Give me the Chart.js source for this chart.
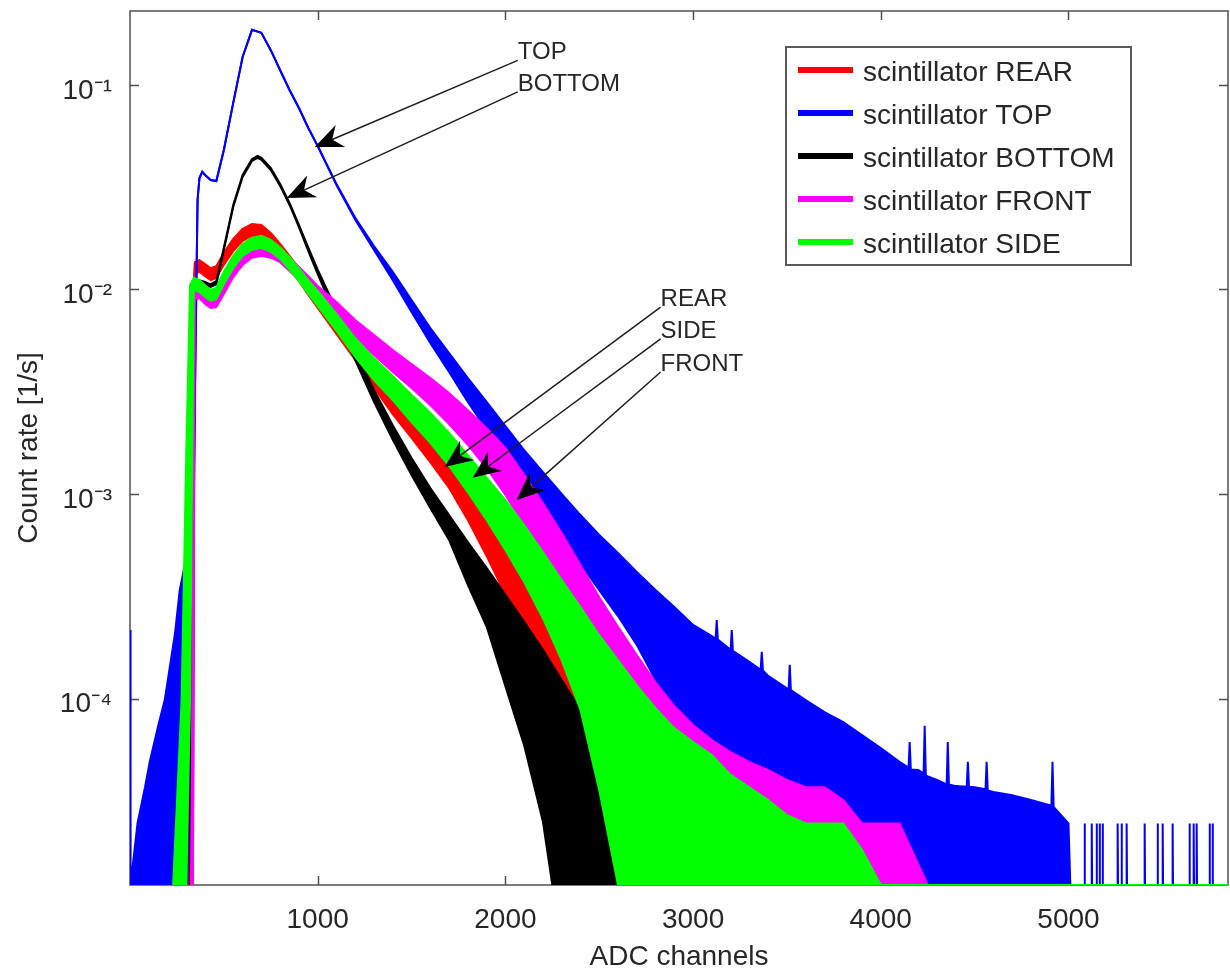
<!DOCTYPE html>
<html><head><meta charset="utf-8">
<script src="https://cdn.jsdelivr.net/npm/chart.js@4.4.1/dist/chart.umd.min.js"></script>
<style>html,body{margin:0;padding:0;background:#fff;}canvas{display:block;}</style>
</head><body>
<canvas id="c" width="1230" height="971"></canvas>
<script>
const FONT = '"Liberation Sans", Arial, Helvetica, sans-serif';

const seriesNames = ['scintillator REAR', 'scintillator TOP', 'scintillator BOTTOM', 'scintillator FRONT', 'scintillator SIDE'];
const seriesColors = ['#ff0000', '#0000ff', '#000000', '#ff00ff', '#00ff00'];

const xTickValues = [1000, 2000, 3000, 4000, 5000];
const xTickLabels = ['1000', '2000', '3000', '4000', '5000'];
const yTickValues = [1e-4, 1e-3, 1e-2, 1e-1];
const yTickLabels = ['10⁻⁴', '10⁻³', '10⁻²', '10⁻¹'];

// REAR (red): channel, upper and lower edge of the noisy trace [1/s]
const rearCh = [300, 320, 335, 345, 370, 400, 430, 460, 500, 550, 600, 650, 700, 750, 800, 850, 900, 950, 1000, 1100, 1200, 1300, 1400, 1500, 1600, 1700, 1800, 1900, 2000, 2100, 2200, 2300, 2400, 2500, 2600, 2700, 2800, 2850];
const rearHi = [1.225e-5, 3.03e-4, 8.89e-3, 0.0136, 0.0139, 0.0133, 0.0127, 0.0130, 0.0151, 0.0177, 0.0198, 0.0209, 0.0207, 0.0189, 0.0167, 0.0146, 0.0127, 0.0109, 0.00951, 0.00725, 0.00554, 0.00432, 0.00337, 0.00269, 0.00210, 0.00160, 0.00120, 8.54e-4, 5.96e-4, 4.02e-4, 2.65e-4, 1.73e-4, 1.10e-4, 7.42e-5, 5.00e-5, 3.19e-5, 2.45e-5, 1.225e-5];
const rearLo = [1.225e-5, 1.225e-5, 3.03e-4, 0.0119, 0.0122, 0.0116, 0.0111, 0.0114, 0.0132, 0.0154, 0.0173, 0.0183, 0.0181, 0.0165, 0.0146, 0.0127, 0.0110, 0.00940, 0.00812, 0.00606, 0.00452, 0.00330, 0.00246, 0.00188, 0.00143, 0.00107, 7.46e-4, 4.98e-4, 3.21e-4, 2.04e-4, 1.23e-4, 7.02e-5, 3.19e-5, 1.225e-5, 1.225e-5, 1.225e-5, 1.225e-5, 1.225e-5];

// TOP (blue)
const topCh = [0, 3, 40, 80, 105, 150, 185, 240, 265, 305, 330, 340, 350, 360, 370, 385, 400, 430, 460, 500, 550, 600, 650, 700, 750, 800, 850, 900, 950, 1000, 1100, 1200, 1300, 1400, 1500, 1600, 1700, 1800, 1900, 2000, 2100, 2200, 2300, 2400, 2500, 2600, 2700, 2800, 2900, 3000,
  3100, 3120, 3126, 3132, 3200, 3206, 3212, 3300, 3360, 3366, 3372, 3400, 3500, 3509, 3515, 3521, 3600, 3700, 3800, 3900, 4000, 4100, 4148, 4154, 4160, 4200, 4228, 4234, 4240, 4300, 4351, 4357, 4363, 4400, 4458, 4464, 4470, 4500, 4558, 4564, 4570, 4600, 4700, 4800, 4900, 4909, 4915, 4921, 5000, 5010];
const topHi = [2.16e-4, 1.225e-5, 2.45e-5, 3.68e-5, 4.90e-5, 7.35e-5, 9.83e-5, 2.09e-4, 3.39e-4, 5.15e-4,
  7.46e-4, 1.17e-3, 6.34e-3, 0.0274, 0.0351, 0.0376, 0.0363, 0.0343, 0.0339, 0.0481,
  0.0817, 0.137, 0.186, 0.180, 0.148, 0.118, 0.0945, 0.0772, 0.0616, 0.0503,
  0.0328, 0.0224, 0.0163, 0.0122, 0.00889, 0.00648, 0.00489, 0.00369, 0.00282, 0.00215,
  0.00164, 0.00128, 0.00100, 7.89e-4, 6.30e-4, 5.15e-4, 4.16e-4, 3.39e-4, 2.80e-4, 2.29e-4,
  2.02e-4, 1.96e-4, 2.42e-4, 1.94e-4, 1.73e-4, 2.16e-4, 1.71e-4, 1.51e-4, 1.38e-4, 1.69e-4,
  1.37e-4, 1.29e-4, 1.12e-4, 1.11e-4, 1.46e-4, 1.10e-4, 9.83e-5, 8.59e-5, 7.67e-5, 6.63e-5,
  5.73e-5, 4.90e-5, 4.60e-5, 6.13e-5, 4.50e-5, 4.47e-5, 4.30e-5, 7.35e-5, 4.20e-5, 4.00e-5,
  3.80e-5, 6.13e-5, 3.80e-5, 3.73e-5, 3.70e-5, 4.90e-5, 3.70e-5, 3.68e-5, 3.60e-5, 4.90e-5,
  3.55e-5, 3.49e-5, 3.37e-5, 3.19e-5, 3.01e-5, 2.98e-5, 4.90e-5, 2.95e-5, 2.45e-5, 1.225e-5];
const topLo = [1.225e-5, 1.225e-5, 1.225e-5, 1.225e-5, 1.225e-5, 1.225e-5, 1.225e-5, 1.225e-5, 1.225e-5, 1.225e-5,
  3.03e-4, 9.35e-4, 5.66e-3, 0.0274, 0.0351, 0.0376, 0.0363, 0.0343, 0.0339, 0.0481,
  0.0817, 0.137, 0.186, 0.180, 0.148, 0.118, 0.0945, 0.0772, 0.0616, 0.0503,
  0.0324, 0.0219, 0.0156, 0.0111, 0.00776, 0.00548, 0.00395, 0.00282, 0.00206, 0.00150,
  0.00109, 8.17e-4, 6.09e-4, 4.55e-4, 3.39e-4, 2.53e-4, 1.83e-4, 1.23e-4, 7.85e-5, 4.47e-5,
  1.225e-5, 1.225e-5, 1.225e-5, 1.225e-5, 1.225e-5, 1.225e-5, 1.225e-5, 1.225e-5, 1.225e-5, 1.225e-5,
  1.225e-5, 1.225e-5, 1.225e-5, 1.225e-5, 1.225e-5, 1.225e-5, 1.225e-5, 1.225e-5, 1.225e-5, 1.225e-5,
  1.225e-5, 1.225e-5, 1.225e-5, 1.225e-5, 1.225e-5, 1.225e-5, 1.225e-5, 1.225e-5, 1.225e-5, 1.225e-5,
  1.225e-5, 1.225e-5, 1.225e-5, 1.225e-5, 1.225e-5, 1.225e-5, 1.225e-5, 1.225e-5, 1.225e-5, 1.225e-5,
  1.225e-5, 1.225e-5, 1.225e-5, 1.225e-5, 1.225e-5, 1.225e-5, 1.225e-5, 1.225e-5, 1.225e-5, 1.225e-5];
// TOP sparse single-count spikes at the high end
const topSpikeCh = [5084, 5086, 5088, 5122, 5124, 5126, 5148, 5150, 5152, 5164, 5166, 5168, 5180, 5182, 5184, 5260, 5262, 5264, 5281, 5283, 5285, 5308, 5310, 5312, 5404, 5406, 5408, 5473, 5475, 5477, 5500, 5502, 5504, 5553, 5555, 5557, 5643, 5645, 5647, 5665, 5667, 5669, 5681, 5683, 5685, 5750, 5752, 5754, 5766, 5768, 5770];
const topSpikeRate = [1.225e-5, 2.45e-5, 1.225e-5, 1.225e-5, 2.45e-5, 1.225e-5, 1.225e-5, 2.45e-5, 1.225e-5, 1.225e-5, 2.45e-5, 1.225e-5, 1.225e-5, 2.45e-5, 1.225e-5, 1.225e-5, 2.45e-5, 1.225e-5, 1.225e-5, 2.45e-5, 1.225e-5, 1.225e-5, 2.45e-5, 1.225e-5, 1.225e-5, 2.45e-5, 1.225e-5, 1.225e-5, 2.45e-5, 1.225e-5, 1.225e-5, 2.45e-5, 1.225e-5, 1.225e-5, 2.45e-5, 1.225e-5, 1.225e-5, 2.45e-5, 1.225e-5, 1.225e-5, 2.45e-5, 1.225e-5, 1.225e-5, 2.45e-5, 1.225e-5, 1.225e-5, 2.45e-5, 1.225e-5, 1.225e-5, 2.45e-5, 1.225e-5];

// BOTTOM (black)
const bottomCh = [320, 335, 345, 370, 400, 430, 460, 500, 550, 600, 650, 680, 700, 750, 800, 850, 900, 950, 1000, 1100, 1200, 1300, 1400, 1500, 1600, 1700, 1800, 1900, 2000, 2100, 2200, 2250, 2300, 2400, 2500, 2600, 2650, 2700];
const bottomHi = [1.225e-5, 2.88e-3, 0.0109, 0.0111, 0.0109, 0.0106, 0.0110, 0.0160, 0.0259, 0.0363, 0.0435, 0.0450, 0.0440, 0.0393, 0.0328, 0.0265, 0.0207, 0.0160, 0.0125, 0.00794, 0.00506, 0.00323, 0.00217, 0.00150, 0.00107, 7.89e-4, 5.82e-4, 4.35e-4, 3.21e-4, 2.37e-4, 1.73e-4, 1.46e-4, 1.23e-4, 8.79e-5, 6.27e-5, 4.00e-5, 2.45e-5, 1.225e-5];
const bottomLo = [1.225e-5, 1.225e-5, 0.0105, 0.0108, 0.0105, 0.0103, 0.0106, 0.0156, 0.0253, 0.0355, 0.0425, 0.0440, 0.0430, 0.0384, 0.0321, 0.0259, 0.0202, 0.0154, 0.0119, 0.00725, 0.00452, 0.00282, 0.00184, 0.00124, 8.54e-4, 5.96e-4, 3.60e-4, 2.25e-4, 1.15e-4, 5.90e-5, 2.50e-5, 1.225e-5, 1.225e-5, 1.225e-5, 1.225e-5, 1.225e-5, 1.225e-5, 1.225e-5];

// FRONT (magenta)
const frontCh = [325, 335, 345, 370, 400, 430, 460, 500, 550, 600, 650, 700, 750, 800, 850, 900, 950, 1000, 1100, 1200, 1300, 1400, 1500, 1600, 1700, 1800, 1900, 2000, 2100, 2200, 2300, 2400, 2500, 2600, 2700, 2800, 2900, 3000, 3100, 3200, 3300, 3400, 3500, 3600, 3700, 3800, 3900, 4100, 4250];
const frontHi = [1.225e-5, 3.03e-4, 0.00994, 0.0103, 0.00961, 0.00919, 0.00930, 0.0108, 0.0132, 0.0151,
  0.0163, 0.0167, 0.0163, 0.0156, 0.0143, 0.0129, 0.0116, 0.0104, 0.00869, 0.00709,
  0.00599, 0.00506, 0.00432, 0.00369, 0.00312, 0.00257, 0.00210, 0.00168, 0.00124, 9.04e-4,
  6.45e-4, 4.50e-4, 3.13e-4, 2.24e-4, 1.63e-4, 1.20e-4, 9.19e-5, 7.42e-5, 6.27e-5, 5.47e-5,
  4.90e-5, 4.47e-5, 4.00e-5, 3.68e-5, 3.68e-5, 3.19e-5, 2.45e-5, 2.45e-5, 1.225e-5];
const frontLo = [1.225e-5, 1.225e-5, 0.00889, 0.00909, 0.00849, 0.00812, 0.00821, 0.00951, 0.0115, 0.0132,
  0.0143, 0.0146, 0.0143, 0.0136, 0.0123, 0.0111, 0.00994, 0.00889, 0.00725, 0.00579,
  0.00478, 0.00395, 0.00330, 0.00272, 0.00220, 0.00174, 0.00134, 9.89e-4, 7.05e-4, 4.75e-4,
  3.03e-4, 1.83e-4, 9.83e-5, 3.57e-5, 1.225e-5, 1.225e-5, 1.225e-5, 1.225e-5, 1.225e-5, 1.225e-5,
  1.225e-5, 1.225e-5, 1.225e-5, 1.225e-5, 1.225e-5, 1.225e-5, 1.225e-5, 1.225e-5, 1.225e-5];

// SIDE (green)
const sideCh = [230, 275, 300, 320, 340, 370, 400, 430, 460, 500, 550, 600, 650, 700, 750, 800, 850, 900, 950, 1000, 1100, 1200, 1300, 1400, 1500, 1600, 1700, 1800, 1900, 2000, 2100, 2200, 2300, 2400, 2500, 2600, 2700, 2800, 2900, 3000, 3100, 3200, 3300, 3400, 3500, 3600, 3800, 3900, 4000, 5850];
const sideHi = [1.225e-5, 9.83e-5, 0.00164, 0.0105, 0.0114, 0.0111, 0.0105, 0.00994, 0.0102, 0.0122,
  0.0146, 0.0167, 0.0179, 0.0183, 0.0175, 0.0161, 0.0144, 0.0127, 0.0111, 0.00983,
  0.00759, 0.00579, 0.00462, 0.00378, 0.00305, 0.00249, 0.00199, 0.00155, 0.00120, 9.35e-4,
  7.05e-4, 5.20e-4, 3.80e-4, 2.80e-4, 2.04e-4, 1.54e-4, 1.16e-4, 8.98e-5, 7.17e-5, 6.13e-5,
  5.29e-5, 4.23e-5, 3.68e-5, 3.19e-5, 2.69e-5, 2.45e-5, 2.45e-5, 1.82e-5, 1.225e-5, 1.225e-5];
const sideLo = [1.225e-5, 1.225e-5, 1.225e-5, 9.83e-5, 0.00994, 0.00972, 0.00919, 0.00879, 0.00899, 0.0106,
  0.0127, 0.0146, 0.0156, 0.0160, 0.0153, 0.0141, 0.0125, 0.0110, 0.00951, 0.00830,
  0.00627, 0.00468, 0.00361, 0.00288, 0.00225, 0.00178, 0.00137, 0.00102, 7.46e-4, 5.32e-4,
  3.71e-4, 2.47e-4, 1.54e-4, 8.79e-5, 3.57e-5, 1.225e-5, 1.225e-5, 1.225e-5, 1.225e-5, 1.225e-5,
  1.225e-5, 1.225e-5, 1.225e-5, 1.225e-5, 1.225e-5, 1.225e-5, 1.225e-5, 1.225e-5, 1.225e-5, 1.225e-5];

// Annotations: label, label anchor (channel, rate), arrow tip (channel, rate)
const annTexts = ['TOP', 'BOTTOM', 'REAR', 'SIDE', 'FRONT'];
const annFromCh = [2066, 2066, 2827, 2827, 2827];
const annFromRate = [0.132, 0.0925, 0.0082, 0.00573, 0.00395];
const annToCh = [984, 835, 1677, 1826, 2060];
const annToRate = [0.0498, 0.028, 0.001355, 0.0012, 9.35e-4];

function pts(ch, vals) { return ch.map((c, i) => ({x: c, y: vals[i]})); }

const seriesData = [
  {ch: rearCh, hi: rearHi, lo: rearLo, order: 5},
  {ch: topCh, hi: topHi, lo: topLo, order: 4},
  {ch: bottomCh, hi: bottomHi, lo: bottomLo, order: 3},
  {ch: frontCh, hi: frontHi, lo: frontLo, order: 2},
  {ch: sideCh, hi: sideHi, lo: sideLo, order: 1}
];
const datasets = [];
seriesData.forEach((s, k) => {
  datasets.push({label: seriesNames[k], data: pts(s.ch, s.hi), borderColor: seriesColors[k], backgroundColor: seriesColors[k],
    borderWidth: 2, pointRadius: 0, tension: 0, fill: '+1', order: s.order});
  datasets.push({label: seriesNames[k] + ' (lower edge)', data: pts(s.ch, s.lo), borderColor: seriesColors[k], backgroundColor: seriesColors[k],
    borderWidth: 2, pointRadius: 0, tension: 0, fill: false, order: s.order});
});
datasets.push({label: 'scintillator TOP (sparse)', data: pts(topSpikeCh, topSpikeRate), borderColor: seriesColors[1],
  borderWidth: 2, pointRadius: 0, tension: 0, fill: false, order: 4});

function noPad(s) { s.paddingTop = 0; s.paddingBottom = 0; s.paddingLeft = 0; s.paddingRight = 0; }

const framePlugin = {
  id: 'frame',
  beforeDatasetsDraw(chart) {
    const {ctx, chartArea: a, scales: {x, y}} = chart;
    ctx.save();
    ctx.strokeStyle = '#505050';
    ctx.lineWidth = 1.5;
    ctx.strokeRect(a.left, a.top, a.right - a.left, a.bottom - a.top);
    const tl = 9;
    ctx.beginPath();
    xTickValues.forEach(v => {
      const px = Math.round(x.getPixelForValue(v)) + 0.5;
      ctx.moveTo(px, a.bottom); ctx.lineTo(px, a.bottom - tl);
      ctx.moveTo(px, a.top); ctx.lineTo(px, a.top + tl);
    });
    yTickValues.forEach(v => {
      const py = Math.round(y.getPixelForValue(v)) + 0.5;
      ctx.moveTo(a.left, py); ctx.lineTo(a.left + tl, py);
      ctx.moveTo(a.right, py); ctx.lineTo(a.right - tl, py);
    });
    ctx.stroke();
    ctx.restore();
  }
};

const annotationPlugin = {
  id: 'annot',
  afterDraw(chart) {
    const {ctx, scales: {x, y}} = chart;
    ctx.save();
    ctx.font = '24px ' + FONT;
    ctx.textBaseline = 'alphabetic';
    ctx.textAlign = 'left';
    annTexts.forEach((t, i) => {
      const ax = x.getPixelForValue(annFromCh[i]), ay = y.getPixelForValue(annFromRate[i]);
      const tx = x.getPixelForValue(annToCh[i]), ty = y.getPixelForValue(annToRate[i]);
      ctx.fillStyle = '#262626';
      ctx.fillText(t, ax, ay - 1);
      const dx = ax - tx, dy = ay - ty, len = Math.hypot(dx, dy);
      const ux = dx / len, uy = dy / len, nx = -uy, ny = ux;
      const HL = 28, HW = 12, NB = 19;
      ctx.strokeStyle = '#1e1e1e';
      ctx.lineWidth = 1.5;
      ctx.beginPath();
      ctx.moveTo(ax, ay);
      ctx.lineTo(tx + ux * NB, ty + uy * NB);
      ctx.stroke();
      ctx.fillStyle = '#000';
      ctx.beginPath();
      ctx.moveTo(tx, ty);
      ctx.lineTo(tx + ux * HL + nx * HW, ty + uy * HL + ny * HW);
      ctx.lineTo(tx + ux * NB, ty + uy * NB);
      ctx.lineTo(tx + ux * HL - nx * HW, ty + uy * HL - ny * HW);
      ctx.closePath();
      ctx.fill();
    });
    ctx.restore();
  }
};

const legendPlugin = {
  id: 'legendBox',
  afterDraw(chart) {
    const ctx = chart.ctx;
    const left = 786, top = 47, w = 345, h = 218;
    ctx.save();
    ctx.fillStyle = '#ffffff';
    ctx.fillRect(left, top, w, h);
    ctx.strokeStyle = '#5a5a5a';
    ctx.lineWidth = 2;
    ctx.strokeRect(left, top, w, h);
    ctx.font = '28px ' + FONT;
    ctx.textBaseline = 'alphabetic';
    ctx.textAlign = 'left';
    seriesNames.forEach((name, i) => {
      const yy = top + 23 + i * 43;
      ctx.strokeStyle = seriesColors[i];
      ctx.lineWidth = 6;
      ctx.beginPath();
      ctx.moveTo(798, yy);
      ctx.lineTo(853, yy);
      ctx.stroke();
      ctx.fillStyle = '#262626';
      ctx.fillText(name, 863, yy + 11);
    });
    ctx.restore();
  }
};

new Chart(document.getElementById('c'), {
  type: 'line',
  data: {datasets: datasets},
  options: {
    responsive: false,
    animation: false,
    devicePixelRatio: 1,
    layout: {padding: {top: 11, right: 2, left: 0, bottom: 0}},
    plugins: {legend: {display: false}, tooltip: {enabled: false}, filler: {propagate: false}},
    scales: {
      x: {
        type: 'linear', min: 0, max: 5850,
        grid: {display: false, drawTicks: false},
        border: {display: false},
        afterBuildTicks: s => { s.ticks = xTickValues.map(v => ({value: v})); },
        ticks: {font: {family: FONT, size: 28}, color: '#262626', padding: 18, maxRotation: 0, autoSkip: false,
          callback: (v, i) => xTickLabels[i]},
        title: {display: true, text: 'ADC channels', color: '#262626', font: {family: FONT, size: 28, lineHeight: 1}, padding: {top: 0, bottom: 0}},
        afterFit: s => { s.height = 86; noPad(s); }
      },
      y: {
        type: 'logarithmic', min: 1.225e-5, max: 0.23,
        grid: {display: false, drawTicks: false},
        border: {display: false},
        afterBuildTicks: s => { s.ticks = yTickValues.map(v => ({value: v})); },
        ticks: {font: {family: FONT, size: 28}, color: '#262626', padding: 18, labelOffset: 6, autoSkip: false,
          callback: (v, i) => yTickLabels[i]},
        title: {display: true, text: 'Count rate [1/s]', color: '#262626', font: {family: FONT, size: 28, lineHeight: 1}, padding: {top: 15, bottom: 0}},
        afterFit: s => { s.width = 130; noPad(s); }
      }
    }
  },
  plugins: [framePlugin, annotationPlugin, legendPlugin]
});
</script>
</body></html>
